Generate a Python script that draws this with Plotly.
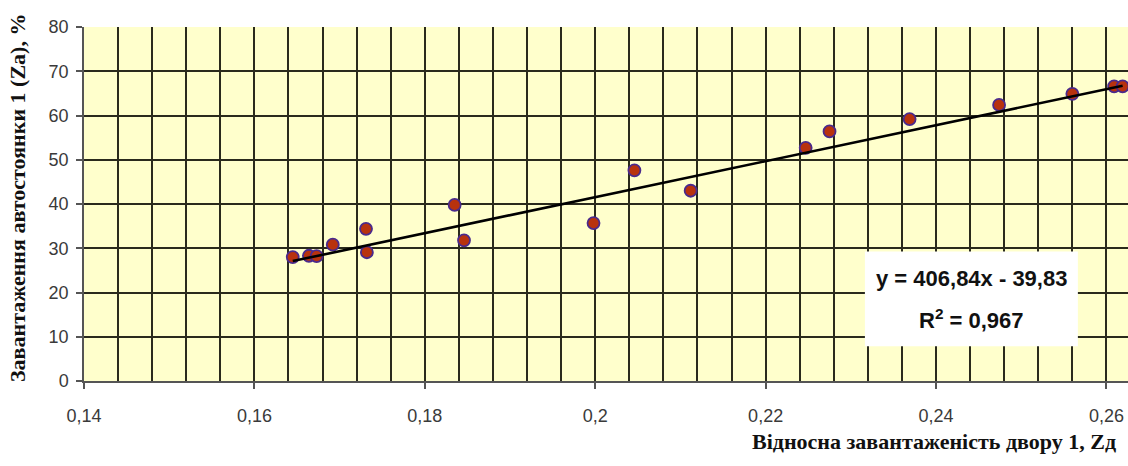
import plotly.graph_objects as go

# Relative yard load (Zд) and parking lot 1 load (Za, %)
zd = [0.1645, 0.1664, 0.1673, 0.1692, 0.1731, 0.1732, 0.1835, 0.1846,
      0.1998, 0.2046, 0.2112, 0.2247, 0.2275, 0.2369, 0.2474, 0.2560,
      0.2609, 0.2619]
za = [28.0, 28.3, 28.2, 30.8, 34.4, 29.1, 39.8, 31.8,
      35.7, 47.6, 43.0, 52.7, 56.4, 59.2, 62.4, 64.9,
      66.6, 66.6]

# Linear trend fitted to the data
slope = 406.84
intercept = -39.83
r_squared = 0.967

x_tick_vals = [0.14, 0.16, 0.18, 0.20, 0.22, 0.24, 0.26]
x_tick_text = ["0,14", "0,16", "0,18", "0,2", "0,22", "0,24", "0,26"]
y_tick_vals = [0, 10, 20, 30, 40, 50, 60, 70, 80]

x_title = "Відносна завантаженість двору 1, Zд"
y_title = "Завантаження автостоянки 1 (Za), %"

trend_x = [min(zd), max(zd)]
trend_y = [slope * v + intercept for v in trend_x]

grid_color = "#2a2a1c"
tick_font = dict(family="Liberation Sans, Arial, sans-serif", size=18, color="#3a3a3a")
title_font = dict(family="Liberation Serif, Times New Roman, serif", size=22, color="#111111")

fig = go.Figure()
fig.add_trace(go.Scatter(
    x=zd, y=za, mode="markers",
    marker=dict(size=12, color="#b8320e", line=dict(color="#4a2a8c", width=1.8)),
    showlegend=False, hoverinfo="x+y",
))
fig.add_trace(go.Scatter(
    x=trend_x, y=trend_y, mode="lines",
    line=dict(color="#000000", width=2.6),
    showlegend=False, hoverinfo="skip",
))

fig.update_layout(
    width=1128, height=466,
    margin=dict(l=84, r=0, t=27, b=85),
    paper_bgcolor="#ffffff",
    plot_bgcolor="#ffffcc",
    separators=", ",
    xaxis=dict(
        range=[0.14, 0.26253],
        tickvals=x_tick_vals, ticktext=x_tick_text,
        ticks="outside", ticklen=6, tickcolor="#555555", tickwidth=1.5,
        ticklabelstandoff=12,
        showgrid=True, gridcolor=grid_color, gridwidth=2,
        minor=dict(dtick=0.004, tick0=0.14, showgrid=True,
                   gridcolor=grid_color, gridwidth=2, ticks=""),
        showline=True, linecolor="#555555", linewidth=1.5,
        tickfont=tick_font, zeroline=False,
    ),
    yaxis=dict(
        range=[0, 80],
        tickvals=y_tick_vals,
        ticks="outside", ticklen=6, tickcolor="#555555", tickwidth=1.5,
        ticklabelstandoff=4,
        showgrid=True, gridcolor=grid_color, gridwidth=2,
        showline=True, linecolor="#555555", linewidth=1.5,
        tickfont=tick_font, zeroline=False,
    ),
)

# Equation box with the fitted line and R²
fig.add_shape(type="rect", xref="paper", yref="paper",
              x0=0.748, x1=0.952, y0=0.098, y1=0.366,
              fillcolor="#ffffff", line=dict(width=0), layer="above")
eq_font = dict(family="Liberation Sans, Arial, sans-serif", size=22, color="#111111")
fig.add_annotation(xref="paper", yref="paper", x=0.85, y=0.289,
                   text="<b>y = 406,84x - 39,83</b>", showarrow=False,
                   font=eq_font, xanchor="center", yanchor="middle")
fig.add_annotation(xref="paper", yref="paper", x=0.85, y=0.176,
                   text="<b>R<sup>2</sup> = 0,967</b>", showarrow=False,
                   font=eq_font, xanchor="center", yanchor="middle")

# Axis titles
fig.add_annotation(xref="paper", yref="paper", x=1.0, y=-0.17,
                   text="<b>" + x_title + "</b>", showarrow=False,
                   font=title_font, xanchor="right", yanchor="middle",
                   xshift=-10)
fig.add_annotation(xref="paper", yref="paper", x=0, y=0.5,
                   text="<b>" + y_title + "</b>", showarrow=False,
                   font=title_font, textangle=-90,
                   xanchor="center", yanchor="middle", xshift=-67, yshift=6)

fig.write_html("out.html")
